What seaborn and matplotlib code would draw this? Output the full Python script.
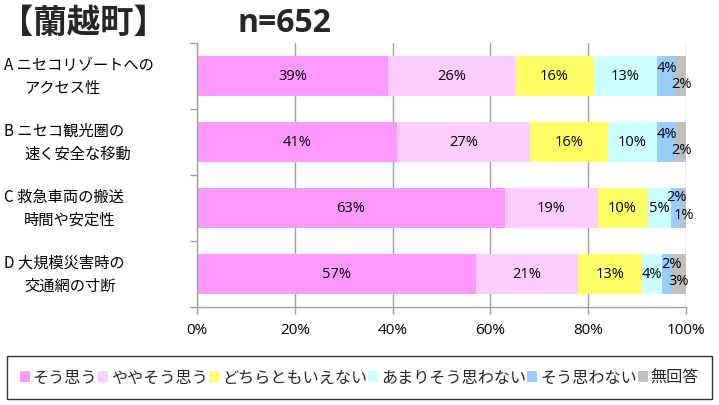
import numpy as np
import pandas as pd
import matplotlib
matplotlib.use("Agg")
import matplotlib.pyplot as plt
import matplotlib.transforms as mtransforms
from matplotlib.patches import Patch
import seaborn as sns

# survey data
items_head = ["A ニセコリゾートへの", "B ニセコ観光圏の", "C 救急車両の搬送", "D 大規模災害時の"]
items_tail = ["アクセス性", "速く安全な移動", "時間や安定性", "交通網の寸断"]
answers = ["そう思う", "ややそう思う", "どちらともいえない", "あまりそう思わない", "そう思わない", "無回答"]
sou_omou = [39, 41, 63, 57]
yaya = [26, 27, 19, 21]
dochira = [16, 16, 10, 13]
amari = [13, 10, 5, 4]
omowanai = [4, 4, 2, 2]
mukaitou = [2, 2, 1, 3]
x_ticks = [0, 20, 40, 60, 80, 100]
x_tick_labels = ["0%", "20%", "40%", "60%", "80%", "100%"]

colors = ["#FF99FF", "#FFCCFF", "#FFFF66", "#CCFFFF", "#99CCFF", "#C0C0C0"]

sns.set_theme(style="white")
plt.rcParams["font.family"] = ["Noto Sans CJK JP", "DejaVu Sans"]

series = [sou_omou, yaya, dochira, amari, omowanai, mukaitou]
keys = ["k0", "k1", "k2", "k3", "k4", "k5"]
df = pd.DataFrame({k: v for k, v in zip(keys, series)})
df["item"] = ["A", "B", "C", "D"]
cum = df[keys].cumsum(axis=1)
cum["item"] = df["item"]

fig = plt.figure(figsize=(7.19, 4.06), dpi=100)
ax = fig.add_axes([197 / 719, 1 - 308 / 406, (686 - 197) / 719, (308 - 44) / 406])

# stacked bars: draw cumulative totals from the longest down
for i in range(len(keys) - 1, -1, -1):
    sns.barplot(data=cum, x=keys[i], y="item", orient="h", color=colors[i],
                width=0.62, saturation=1, ax=ax, linewidth=0, zorder=2)

ax.set_xlim(0, 100)
ax.set_ylim(3.5, -0.5)
ax.set_xlabel("")
ax.set_ylabel("")
ax.set_xticks(x_ticks)
ax.set_xticklabels(x_tick_labels, fontsize=11, fontfamily="Open Sans")
ax.set_yticks([])
ax.set_yticks([-0.5, 0.5, 1.5, 2.5, 3.5], minor=True)
ax.tick_params(axis="y", which="minor", left=True, length=5, width=1, color="#A0A0A0", direction="out")
ax.tick_params(axis="x", which="major", bottom=True, length=5, width=1, color="#A0A0A0",
               direction="out", pad=6, labelcolor="black")
ax.xaxis.grid(True, color="#A0A0A0", linewidth=1, zorder=0)
ax.yaxis.grid(False)
ax.set_axisbelow(True)
for s in ["top", "right"]:
    ax.spines[s].set_visible(False)
for s in ["left", "bottom"]:
    ax.spines[s].set_color("#A0A0A0")
    ax.spines[s].set_linewidth(1)

# value labels; crowded small segments get nudged up or down (pixel offsets)
nudge = {(0, 4): -9, (0, 5): 7, (1, 4): -9, (1, 5): 7,
         (2, 4): -11, (2, 5): 7, (3, 4): -10, (3, 5): 7}
nudge_x = {(3, 4): 5}
for r in range(4):
    left = 0
    for c in range(len(keys)):
        v = series[c][r]
        xc = left + v / 2
        dy = nudge.get((r, c), 0)
        dx = nudge_x.get((r, c), 0)
        ax.annotate(f"{v}%", (xc, r), xytext=(dx * 0.72, -dy * 0.72), textcoords="offset points",
                    ha="center", va="center", fontsize=10.5, fontfamily="Open Sans",
                    color="black", zorder=5)
        left += v

# category labels in two lines
trans = mtransforms.blended_transform_factory(fig.transFigure, ax.transData)
for r in range(4):
    ax.annotate(items_head[r], (4 / 719, r), xycoords=trans, xytext=(0, 8.5), textcoords="offset points",
                ha="left", va="center", fontsize=11, color="black", annotation_clip=False)
    ax.annotate(items_tail[r], (24 / 719, r), xycoords=trans, xytext=(0, -8), textcoords="offset points",
                ha="left", va="center", fontsize=11, color="black", annotation_clip=False)

# titles
fig.text(0 / 719, 1 - 23 / 406, "【蘭越町】", fontsize=24, fontweight="bold", ha="left", va="center")
fig.text(238 / 719, 1 - 23 / 406, "n=652", fontsize=23, fontweight="bold", ha="left", va="center",
         fontfamily=["Open Sans", "DejaVu Sans"])

# legend
handles = [Patch(facecolor=col, edgecolor="none") for col in colors]
leg = fig.legend(handles, answers, loc="lower left", ncol=6,
                 bbox_to_anchor=(7 / 719, 6 / 406, (712 - 7) / 719, (400 - 349) / 406),
                 mode="expand", frameon=True, fancybox=False, fontsize=11.6,
                 handlelength=0.6, handleheight=0.6, handletextpad=0.2,
                 columnspacing=0.5, borderaxespad=0, borderpad=0.8)
leg.get_frame().set_edgecolor("black")
leg.get_frame().set_linewidth(1)

fig.savefig("out.png", dpi=100)
